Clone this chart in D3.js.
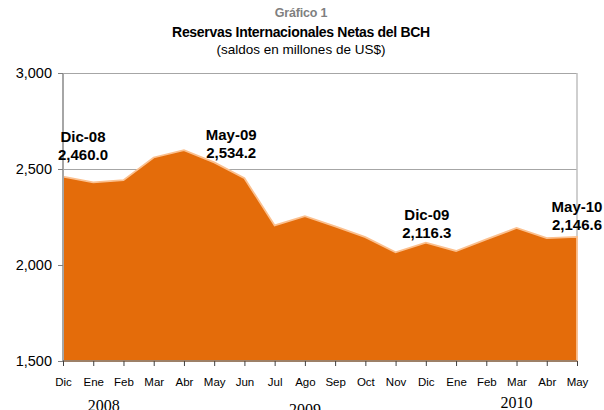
<!DOCTYPE html>
<html><head><meta charset="utf-8">
<script src="https://cdn.jsdelivr.net/npm/d3@7"></script>
<style>
html,body{margin:0;padding:0;background:#fff;}
svg{display:block;}
</style></head>
<body>
<svg id="chart" width="604" height="410"></svg>
<script>
// ---- data ----
const months = ["Dic","Ene","Feb","Mar","Abr","May","Jun","Jul","Ago","Sep","Oct","Nov","Dic","Ene","Feb","Mar","Abr","May"];
const values = [2460.0,2430,2442,2560,2598,2534.2,2452,2206,2254,2201,2145,2066,2116.3,2073,2133,2193,2140,2146.6];
const yTicks = [1500,2000,2500,3000];
const years = ["2008","2009","2010"];
const yearCenterIdx = [1.35,8,15];
const annotIdx = [0,5,12,17];
const annotLabels = ["Dic-08","May-09","Dic-09","May-10"];
const titleLines = ["Gráfico 1","Reservas Internacionales Netas del BCH","(saldos en millones de US$)"];

// ---- layout ----
const svg = d3.select("#chart");
const pLeft = 63, pRight = 577, pTop = 73, pBottom = 361;
const x = d3.scalePoint().domain(d3.range(months.length)).range([pLeft, pRight]);
const y = d3.scaleLinear().domain([1500,3000]).range([pBottom, pTop]);
const fmt = d3.format(",.1f");

// titles
const tStyles = [
  {y:17, size:12.5, weight:"bold", fill:"#7f7f7f", ls:-0.2},
  {y:37, size:14, weight:"bold", fill:"#000", ls:-0.3},
  {y:54, size:13.5, weight:"normal", fill:"#000", ls:0}
];
titleLines.forEach((t,i)=>{
  svg.append("text").attr("x",301).attr("y",tStyles[i].y)
    .attr("text-anchor","middle")
    .attr("font-family","Liberation Sans, Arial, sans-serif")
    .attr("font-size",tStyles[i].size).attr("font-weight",tStyles[i].weight)
    .attr("letter-spacing",tStyles[i].ls)
    .attr("fill",tStyles[i].fill).text(t);
});

// gridlines
svg.append("g").selectAll("line").data(yTicks.filter(d=>d>1500)).join("line")
  .attr("x1",pLeft).attr("x2",pRight).attr("y1",d=>y(d)).attr("y2",d=>y(d))
  .attr("stroke","#a6a6a6").attr("stroke-width",1).attr("shape-rendering","crispEdges");
// right border
svg.append("line").attr("x1",pRight).attr("x2",pRight).attr("y1",pTop).attr("y2",pBottom)
  .attr("stroke","#bfbfbf").attr("stroke-width",1.5);

// area
const area = d3.area().x((d,i)=>x(i)).y0(y(1500)).y1(d=>y(d));
svg.append("path").datum(values).attr("d",area)
  .attr("fill","#e46c0a").attr("stroke","#fbc08f").attr("stroke-width",1.8)
  .attr("stroke-linejoin","miter");

// y axis
const yAxis = svg.append("g").attr("transform",`translate(${pLeft},0)`)
  .call(d3.axisLeft(y).tickValues(yTicks).tickFormat(d3.format(",")).tickSize(5).tickPadding(6));
yAxis.select(".domain").attr("stroke","#a6a6a6").attr("stroke-width",2).attr("d",`M0,${pTop}V${pBottom}`);
yAxis.selectAll(".tick line").attr("stroke","#808080");
yAxis.selectAll("text").attr("font-family","Liberation Sans, Arial, sans-serif").attr("font-size",14.5).attr("fill","#000");

// x axis
const xAxis = svg.append("g").attr("transform",`translate(0,${pBottom})`)
  .call(d3.axisBottom(x).tickFormat(i=>months[i]).tickSize(5).tickPadding(12));
xAxis.select(".domain").attr("stroke","#404040").attr("stroke-width",1.2).attr("d",`M${pLeft},0H${pRight}`);
xAxis.selectAll(".tick line").attr("stroke","#404040");
xAxis.selectAll("text").attr("font-family","Liberation Sans, Arial, sans-serif").attr("font-size",11.5).attr("fill","#000");

// year labels
const yearY = [411,415,408];
years.forEach((t,i)=>{
  svg.append("text").attr("x",pLeft + (pRight-pLeft)*yearCenterIdx[i]/(months.length-1))
    .attr("y",yearY[i]).attr("text-anchor","middle")
    .attr("font-family","Liberation Serif, Times New Roman, serif").attr("font-size",16)
    .attr("fill","#000").text(t);
});

// annotations
const annotOff = [[20,-35],[17,-22],[1,-23],[0,-25]];
annotIdx.forEach((idx,k)=>{
  const ax = x(idx)+annotOff[k][0], ay = y(values[idx])+annotOff[k][1];
  const g = svg.append("text").attr("text-anchor","middle")
    .attr("font-family","Liberation Sans, Arial, sans-serif").attr("font-size",15)
    .attr("font-weight","bold").attr("fill","#000");
  g.append("tspan").attr("x",ax).attr("y",ay).text(annotLabels[k]);
  g.append("tspan").attr("x",ax).attr("y",ay+18).text(fmt(values[idx]));
});
</script>
</body></html>
